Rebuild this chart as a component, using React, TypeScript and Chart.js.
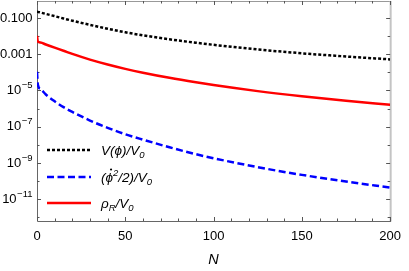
import React, { useEffect, useRef } from 'react';
import { Chart, registerables } from 'chart.js';

Chart.register(...registerables);

// e-folds N
const nValues = [0, 0.5, 2, 5, 10, 15, 20, 30, 40, 50, 60, 75, 90, 100, 125, 150, 175, 200];
// V(phi)/V0
const potentialValues = [0.229, 0.223, 0.204, 0.172, 0.129, 0.0966, 0.0724, 0.0427, 0.026, 0.0166, 0.01122, 0.00676, 0.00437, 0.00335, 0.00186, 0.00114, 0.000759, 0.000525];
// (phidot^2/2)/V0
const kineticValues = [1.07e-4, 2.04e-5, 1.2e-5, 6.0e-6, 2.51e-6, 1.2e-6, 6.5e-7, 2.17e-7, 8.6e-8, 3.8e-8, 1.91e-8, 7.2e-9, 2.97e-9, 1.78e-9, 5.7e-10, 2.14e-10, 9.1e-11, 4.27e-11];
// rho_R/V0
const radiationValues = [1.05e-2, 5.01e-3, 4.47e-3, 3.51e-3, 2.34e-3, 1.58e-3, 1.05e-3, 5.1e-4, 2.73e-4, 1.57e-4, 9.6e-5, 5.0e-5, 2.82e-5, 1.99e-5, 9.2e-6, 4.76e-6, 2.67e-6, 1.6e-6];

const xTickValues = [0, 50, 100, 150, 200];
const yLabelExponents = [-1, -3, -5, -7, -9, -11];
const yMinorExponents = [-12, -11, -10, -9, -8, -7, -6, -5, -4, -3, -2, -1];

const FONT = '"Liberation Sans", Arial, sans-serif';

type Seg = { t: string; s?: number; dy?: number; dot?: boolean };

function drawRich(ctx: CanvasRenderingContext2D, segs: Seg[], x: number, baseline: number, italic: boolean) {
  let cx = x;
  ctx.textAlign = 'left';
  ctx.textBaseline = 'alphabetic';
  for (const sg of segs) {
    const size = sg.s ?? 13.5;
    ctx.font = `${italic ? 'italic ' : ''}${size}px ${FONT}`;
    ctx.fillText(sg.t, cx, baseline + (sg.dy ?? 0));
    const w = ctx.measureText(sg.t).width;
    if (sg.dot) {
      ctx.beginPath();
      ctx.arc(cx + w / 2 + 1.8, baseline - 12.5, 1.1, 0, Math.PI * 2);
      ctx.fill();
    }
    cx += w;
  }
  return cx;
}

const framePlugin = {
  id: 'frameTicks',
  beforeDatasetsDraw(chart: any) {
    const { ctx, chartArea } = chart;
    const { left, right, top, bottom } = chartArea;
    const x = chart.scales.x;
    const y = chart.scales.y;
    ctx.save();
    // frame
    ctx.lineWidth = 1;
    ctx.strokeStyle = '#999';
    ctx.beginPath();
    ctx.moveTo(left, top + 0.5);
    ctx.lineTo(right, top + 0.5);
    ctx.stroke();
    ctx.strokeStyle = '#c4c4c4';
    ctx.lineWidth = 2;
    ctx.beginPath();
    ctx.moveTo(right + 0.5, top);
    ctx.lineTo(right + 0.5, bottom);
    ctx.stroke();
    ctx.strokeStyle = '#666';
    ctx.lineWidth = 1;
    ctx.beginPath();
    ctx.moveTo(left + 0.5, top);
    ctx.lineTo(left + 0.5, bottom + 0.5);
    ctx.lineTo(right + 1, bottom + 0.5);
    ctx.stroke();
    // ticks
    ctx.strokeStyle = '#555';
    ctx.lineWidth = 1;
    ctx.beginPath();
    for (let n = 0; n <= 200; n += 10) {
      const px = Math.round(x.getPixelForValue(n)) + 0.5;
      const len = n % 50 === 0 ? 4 : 2.5;
      ctx.moveTo(px, bottom);
      ctx.lineTo(px, bottom - len);
      ctx.moveTo(px, top);
      ctx.lineTo(px, top + len);
    }
    for (const e of yMinorExponents) {
      const py = Math.round(y.getPixelForValue(Math.pow(10, e))) + 0.5;
      const len = yLabelExponents.includes(e) ? 4 : 2.5;
      ctx.moveTo(left, py);
      ctx.lineTo(left + len, py);
      ctx.moveTo(right, py);
      ctx.lineTo(right - len, py);
    }
    ctx.stroke();
    // y labels
    ctx.fillStyle = '#000';
    const rx = 32.5;
    for (const e of yLabelExponents) {
      const py = y.getPixelForValue(Math.pow(10, e));
      const base = py + 3.8;
      if (e >= -3) {
        ctx.font = `13px ${FONT}`;
        ctx.textAlign = 'right';
        ctx.textBaseline = 'alphabetic';
        ctx.fillText(Math.pow(10, e).toFixed(3), rx, base);
      } else {
        ctx.font = `9.5px ${FONT}`;
        const expText = '\u2212' + String(-e);
        const ew = ctx.measureText(expText).width;
        ctx.textAlign = 'left';
        ctx.textBaseline = 'alphabetic';
        ctx.fillText(expText, rx - ew, base - 6);
        ctx.font = `13px ${FONT}`;
        const mw = ctx.measureText('10').width;
        ctx.fillText('10', rx - ew - mw - 0.5, base);
      }
    }
    ctx.restore();
  },
  afterDatasetsDraw(chart: any) {
    const { ctx } = chart;
    ctx.save();
    const x0 = 47;
    const x1 = 91;
    const tx = 101;
    const rows = [
      { y: 150, color: '#000', dash: [3, 2], segs: [{ t: 'V(' }, { t: '\u03D5' }, { t: ')/V' }, { t: '0', s: 9.5, dy: 3 }] },
      { y: 177, color: '#0000ff', dash: [7, 3.5], segs: [{ t: '(' }, { t: '\u03D5', dot: true }, { t: '2', s: 9.5, dy: -6 }, { t: '/2)/V' }, { t: '0', s: 9.5, dy: 3 }] },
      { y: 203, color: '#ff0000', dash: [], segs: [{ t: '\u03C1' }, { t: 'R', s: 9.5, dy: 3 }, { t: '/V' }, { t: '0', s: 9.5, dy: 3 }] },
    ];
    for (const r of rows) {
      ctx.strokeStyle = r.color;
      ctx.lineWidth = 2.5;
      ctx.setLineDash(r.dash);
      ctx.beginPath();
      ctx.moveTo(x0, r.y);
      ctx.lineTo(x1, r.y);
      ctx.stroke();
      ctx.setLineDash([]);
      ctx.fillStyle = '#000';
      drawRich(ctx, r.segs as Seg[], tx, r.y + 5, true);
    }
    ctx.restore();
  },
};

export default function App() {
  const ref = useRef<HTMLCanvasElement | null>(null);
  useEffect(() => {
    document.body.style.margin = '0';
    const canvas = ref.current;
    if (!canvas) return;
    const mk = (vals: number[]) => nValues.map((n, i) => ({ x: n, y: vals[i] }));
    const chart = new Chart(canvas, {
      type: 'line',
      data: {
        datasets: [
          { label: 'V(ϕ)/V0', data: mk(potentialValues), borderColor: '#000', borderWidth: 2.5, borderDash: [3, 2], pointRadius: 0, cubicInterpolationMode: 'monotone', fill: false },
          { label: '(ϕ̇²/2)/V0', data: mk(kineticValues), borderColor: '#0000ff', borderWidth: 2.5, borderDash: [7, 3.5], pointRadius: 0, cubicInterpolationMode: 'monotone', fill: false },
          { label: 'ρR/V0', data: mk(radiationValues), borderColor: '#ff0000', borderWidth: 2.5, pointRadius: 0, cubicInterpolationMode: 'monotone', fill: false },
        ],
      },
      options: {
        animation: false,
        responsive: false,
        maintainAspectRatio: false,
        layout: { padding: { left: 0, right: 12, top: 1, bottom: 0 } },
        plugins: { legend: { display: false }, tooltip: { enabled: false } },
        scales: {
          x: {
            type: 'linear',
            min: 0,
            max: 200,
            grid: { display: false, drawTicks: false },
            border: { display: false },
            afterBuildTicks: (s: any) => { s.ticks = xTickValues.map((v) => ({ value: v })); },
            afterFit: (s: any) => { s.height = 50; },
            ticks: { color: '#000', font: { family: FONT, size: 13 }, padding: 8, autoSkip: false, maxRotation: 0 },
            title: { display: true, text: 'N', color: '#000', font: { family: FONT, size: 14.5, style: 'italic' }, padding: { top: 0, bottom: 2 } },
          },
          y: {
            type: 'logarithmic',
            min: Math.pow(10, -12.2),
            max: Math.pow(10, -0.05),
            grid: { display: false, drawTicks: false },
            border: { display: false },
            ticks: { display: false },
            afterFit: (s: any) => { s.width = 37; },
          },
        },
      },
      plugins: [framePlugin],
    } as any);
    return () => chart.destroy();
  }, []);
  return (
    <div style={{ width: 409, height: 271 }}>
      <canvas ref={ref} width={409} height={271} />
    </div>
  );
}
